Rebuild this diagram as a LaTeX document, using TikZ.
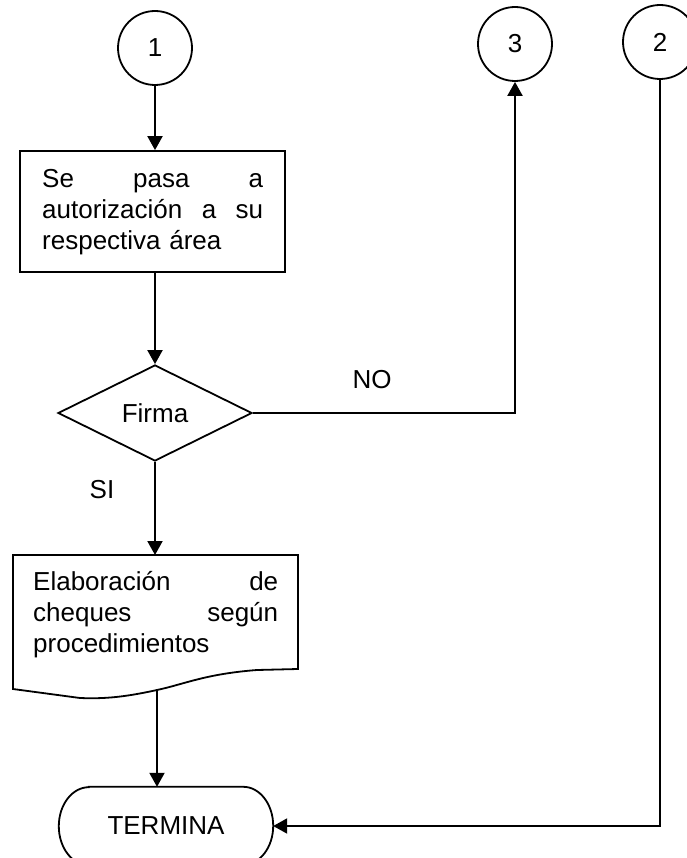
\documentclass[tikz,border=0pt]{standalone}
\usepackage{fontspec}
\setmainfont{Liberation Sans}
\usetikzlibrary{shapes.geometric,arrows.meta}
\begin{document}
\begin{tikzpicture}[x=1pt,y=-1pt,
  every node/.style={font=\fontsize{26}{31}\selectfont},
  conn/.style={draw, line width=2pt},
  arr/.style={conn, -{Triangle[width=15pt,length=14pt]}},
  conncircle/.style={draw, line width=1.8pt, circle, inner sep=0pt, minimum size=74pt},
  shapeline/.style={draw, line width=1.8pt},
  txt/.style={inner sep=0pt, anchor=north west, align=left}]
\useasboundingbox (0,0) rectangle (686,858);
% connectors (circles)
\node[conncircle] (c1) at (155,48) {1};
\node[conncircle] (c3) at (515,44) {3};
\node[conncircle] (c2) at (660,42) {2};
% process box
\node[shapeline, minimum width=265pt, minimum height=121pt] (box) at (152.5,211.5) {};
\node[txt, text width=221pt] (boxtxt) at (42,167) {\rule{0pt}{20pt}\makebox[221pt][s]{Se\hfill pasa\hfill a}\\\makebox[221pt][s]{autorización\hfill a\hfill su}\\respectiva área};
% decision
\node[shapeline, diamond, aspect=2, minimum width=194pt, minimum height=96pt, inner sep=0pt] (dia) at (155,413) {Firma};
% document
\coordinate (dtop) at (155,555);
\coordinate (dbot) at (157,690);
\draw[line width=1.8pt] (13,555) -- (298,555) -- (298,669) -- (257,670)
  .. controls (205,674) and (185,684) .. (dbot)
  .. controls (125,697) and (105,699) .. (80,698) -- (13,689) -- cycle;
\node[txt, text width=245pt] (doctxt) at (33,570) {\rule{0pt}{20pt}\makebox[245pt][s]{Elaboración\hfill de}\\\makebox[245pt][s]{cheques\hfill según}\\procedimientos};
% terminator
\node[minimum width=214pt, minimum height=78pt, inner sep=0pt] (term) at (166,826) {TERMINA};
\draw[line width=1.8pt] ([xshift=30pt]term.north west) -- ([xshift=-30pt]term.north east)
  arc[start angle=90,end angle=-90,x radius=30pt,y radius=39pt]
  -- ([xshift=30pt]term.south west)
  arc[start angle=270,end angle=90,x radius=30pt,y radius=39pt] -- cycle;
% labels
\node (no) at (372,380) {NO};
\node (si) at (102,490) {SI};
% arrows
\draw[arr] (c1.south) -- (c1.south |- box.north);
\draw[arr] (dia.north |- box.south) -- (dia.north);
\draw[arr] (dia.south) -- (dtop);
\draw[arr] (dia.east) -- (dia.east -| c3.south) -- (c3.south);
\draw[arr] (dbot) -- (dbot |- term.north);
\draw[arr] (c2.south) -- (c2.south |- term.east) -- (term.east);
\end{tikzpicture}
\end{document}
